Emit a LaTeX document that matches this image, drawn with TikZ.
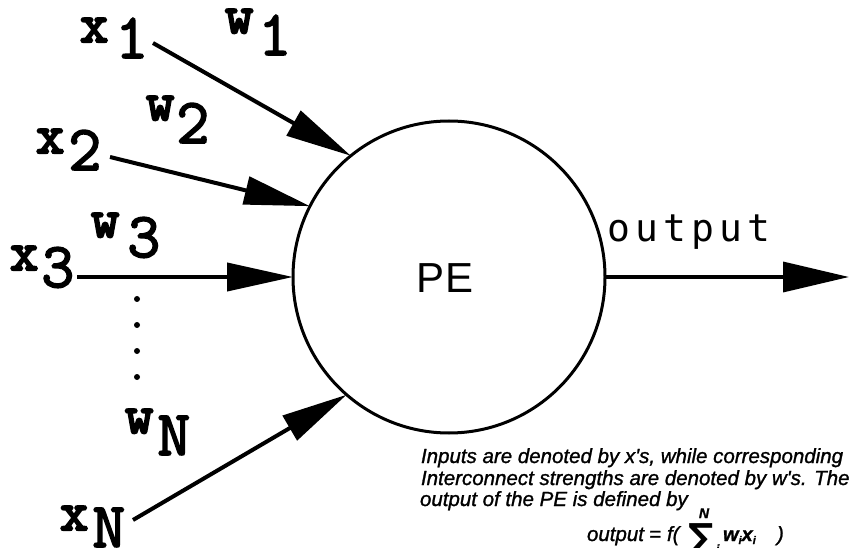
\documentclass[tikz,border=0pt]{standalone}
\usepackage{fontspec}
\usetikzlibrary{arrows.meta}
\setmainfont{Liberation Sans}
% typewriter letters and their indices
\newfontfamily\varfont{Latin Modern Mono}[FakeBold=4]
\newfontfamily\idxfont{Latin Modern Mono}[FakeBold=2.5]
% plain sans labels
\newfontfamily\pefont{Liberation Sans}
\newfontfamily\outfont{DejaVu Sans Mono}[LetterSpace=14]
% caption
\newfontfamily\notefont{Liberation Sans}[FakeBold=1.2]
\newfontfamily\sumfont{DejaVu Sans}

% input / weight label: letter, index, extra kern, index drop
\newcommand\sublabel[4]{{\fontsize{55}{55}\varfont #1}\kern#3pt\raisebox{-#4pt}{\fontsize{64}{64}\idxfont #2}}

\tikzset{
  lbl/.style={anchor=base west, inner sep=0pt, outer sep=0pt},
  inarrow/.style={line width=4pt, -{Triangle[length=66pt, width=28pt]}},
  outarrow/.style={line width=3.5pt, -{Triangle[length=66pt, width=30pt]}},
  note/.style={anchor=base west, inner sep=0pt, outer sep=0pt,
               font=\fontsize{20.5}{20.5}\notefont\itshape},
}

\begin{document}
\begin{tikzpicture}[x=1pt, y=-1pt]
\useasboundingbox (0,0) rectangle (852,548);

% processing element
\node[circle, draw, line width=3pt, minimum size=312pt, inner sep=0pt, outer sep=0pt] (pe) at (449,277) {};
\node[inner sep=0pt] (pelabel) at (445,278) {\fontsize{42}{42}\pefont PE};

% inputs
\node[lbl] (x1) at (80,42)  {\sublabel{x}{1}{7}{16}};
\node[lbl] (x2) at (36,153) {\sublabel{x}{2}{4}{17}};
\node[lbl] (x3) at (10,270) {\sublabel{x}{3}{3}{17}};
\node[lbl] (xn) at (60,530) {\sublabel{x}{N}{4}{17}};

% weights
\node[lbl] (w1) at (225,33)  {\sublabel{w}{1}{5}{22}};
\node[lbl] (w2) at (146,120) {\sublabel{w}{2}{2}{23}};
\node[lbl] (w3) at (91,237)  {\sublabel{w}{3}{8}{20}};
\node[lbl] (wn) at (125,433) {\sublabel{w}{N}{4}{22}};

% connector start points
\coordinate (s1) at (153,43);
\coordinate (s2) at (110,157);
\coordinate (s3) at (77,277);
\coordinate (sn) at (133,520);
\coordinate (oend) at (849,277);

\draw[inarrow] (s1) -- (pe.129.6);
\draw[inarrow] (s2) -- (pe.153.9);
\draw[inarrow] (s3) -- (pe.west);
\draw[inarrow] (sn) -- (pe.229.4);
\draw[outarrow] (pe.east) -- (oend);

% ellipsis between the third and the last input
\foreach \yy in {299,325,351,377}
  \fill (137,\yy) circle[radius=3pt];

% output label
\node[lbl] (outlabel) at (607,242) {\fontsize{38}{38}\outfont output};

% explanatory note
\node[note] (note1) at (421,463) {Inputs are denoted by x's, while corresponding};
\node[note] (note2) at (421,485) {Interconnect strengths are denoted by w's. The};
\node[note] (note3) at (420,506) {output of the PE is defined by};

% formula
\node[note] (fout) at (587,541) {output};
\node[note] (feq) at (649,541) {=};
\node[note] (ff) at (667,541) {f(};
\node[lbl] (fsum) at (688,549) {\fontsize{36}{36}\sumfont\bfseries ∑};
\node[anchor=base, inner sep=0pt] (fn) at (704,518) {\fontsize{14}{14}\notefont\bfseries\itshape N};
\node[lbl] (fi) at (716,553) {\fontsize{12}{12}\notefont\bfseries\itshape i};
\node[lbl] (fwx) at (723,541) {\fontsize{20}{20}\notefont\bfseries\itshape w\raisebox{-3pt}{\fontsize{11}{11}\selectfont i}x\raisebox{-3pt}{\fontsize{11}{11}\selectfont i}};
\node[note] (fclose) at (777,541) {)};
\end{tikzpicture}
\end{document}
